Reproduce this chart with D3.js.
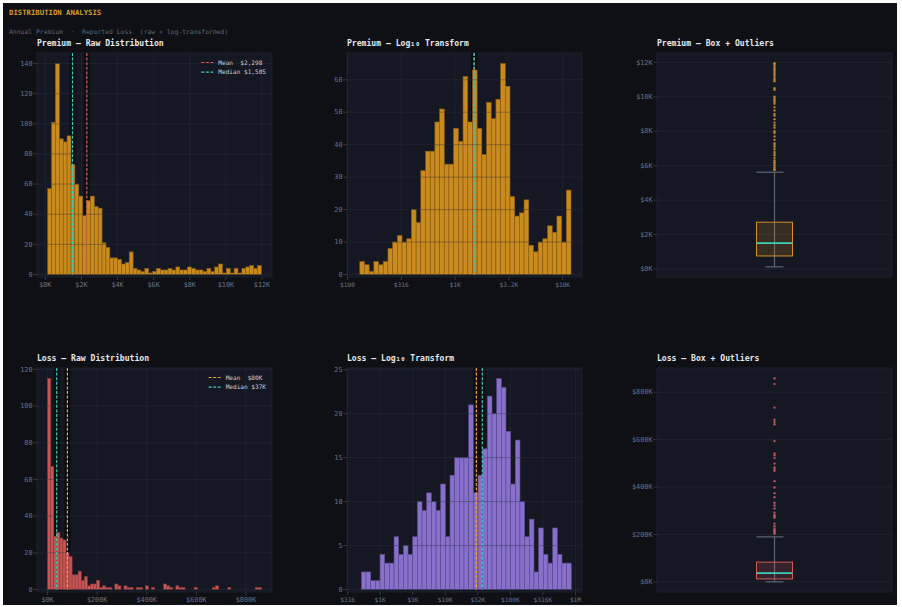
<!DOCTYPE html>
<html>
<head>
<meta charset="utf-8">
<script src="https://cdn.jsdelivr.net/npm/d3@7"></script>
<style>
  html, body { margin: 0; padding: 0; background: #ffffff; }
  svg { display: block; }
  text { font-family: "DejaVu Sans Mono", monospace; }
</style>
</head>
<body>
<svg id="chart" width="902" height="607"></svg>
<script>
// ---- data ----
const premiumRange = [130, 11960];           // min / max premium ($)
const premiumRawCounts = [57, 101, 140, 90, 88, 92, 73, 60, 52, 39, 49, 52, 45, 44, 21, 18, 11, 11, 10, 7,
  8, 15, 4, 3, 2, 4, 1, 2, 4, 3, 3, 4, 3, 5, 3, 3, 5, 4, 3, 3, 2, 4, 2, 5, 7, 1, 4, 1, 4, 1, 4, 5, 6, 4, 6];
const premiumLogCounts = [4, 3, 1, 4, 3, 4, 8, 10, 12, 10, 11, 20, 16, 32, 38, 38, 47, 51, 34, 34,
  45, 41, 61, 47, 63, 45, 37, 53, 48, 54, 65, 58, 24, 18, 19, 23, 9, 7, 10, 11, 15, 13, 18, 10, 26];
const premiumMean = 2298, premiumMedian = 1505, premiumLogMean = 1500;

const lossRange = [514, 862000];
const lossRawCounts = [115, 67, 29, 31, 28, 27, 20, 18, 8, 8, 10, 5, 7, 2, 3, 3, 5, 1, 2, 1,
  1, 0, 3, 2, 0, 2, 1, 1, 0, 1, 1, 0, 2, 0, 1, 0, 0, 0, 3, 2,
  1, 0, 2, 1, 1, 0, 0, 0, 1, 0, 0, 0, 0, 0, 1, 2, 0, 0, 0, 1,
  0, 0, 0, 0, 0, 0, 0, 0, 1, 1];
const lossLogCounts = [2, 2, 1, 1, 4, 3, 3, 6, 4, 5, 4, 6, 10, 9, 11, 10, 9, 12, 6, 13,
  15, 15, 15, 21, 11, 13, 16, 22, 20, 24, 23, 18, 12, 17, 10, 6, 8, 2, 7, 4, 3, 7, 4, 3, 3];
const lossMean = 80000, lossMedian = 37000, lossLogMean = 30000;

// box plot stats: [whiskerLow, q1, median, q3, whiskerHigh]
const premiumBox = [130, 760, 1505, 2720, 5620];
const premiumOutliers = [5750, 5800, 5900, 6000, 6100, 6200, 6300, 6450, 6600, 6700, 6800, 6950, 7100, 7200,
  7300, 7500, 7700, 7900, 8000, 8200, 8350, 8500, 8700, 8900, 9000, 9200, 9400, 9600, 9700, 9800,
  9900, 10000, 10400, 10500, 10900, 11000, 11100, 11200, 11300, 11400, 11500, 11600, 11700, 11800, 11900, 11950];
const lossBox = [514, 12800, 37000, 83600, 190000];
const lossOutliers = [203000, 207000, 213000, 218000, 224000, 235000, 246000, 271000, 276000, 281000, 292000,
  310000, 322000, 334000, 357000, 374000, 398000, 425000, 469000, 476000, 483000, 499000, 522000,
  534000, 542000, 594000, 665000, 675000, 684000, 735000, 834000, 859000];

// tick labels
const premiumRawTicks = [0, 2000, 4000, 6000, 8000, 10000, 12000];
const premiumRawLabels = ["$0K", "$2K", "$4K", "$6K", "$8K", "$10K", "$12K"];
const premiumLogTicks = [100, 316.2, 1000, 3162, 10000];
const premiumLogLabels = ["$100", "$316", "$1K", "$3.2K", "$10K"];
const lossRawTicks = [0, 200000, 400000, 600000, 800000];
const lossRawLabels = ["$0K", "$200K", "$400K", "$600K", "$800K"];
const lossLogTicks = [316.2, 1000, 3162, 10000, 31623, 100000, 316228, 1000000];
const lossLogLabels = ["$316", "$1K", "$3K", "$10K", "$32K", "$100K", "$316K", "$1M"];
const premiumBoxTicks = [0, 2000, 4000, 6000, 8000, 10000, 12000];
const premiumBoxLabels = ["$0K", "$2K", "$4K", "$6K", "$8K", "$10K", "$12K"];
const lossBoxTicks = [0, 200000, 400000, 600000, 800000];
const lossBoxLabels = ["$0K", "$200K", "$400K", "$600K", "$800K"];

// ---- style ----
const C = {
  page: "#0e1015", plot: "#151822", border: "#1f2330", grid: "#2c3142",
  tick: "#6b7288", tickLine: "#3b4152", title: "#e6e7ea",
  orange: "#d3901f", orangeStroke: "#8b5d12",
  red: "#d25a5a", redStroke: "#8e3a3a",
  purple: "#8d74d4", purpleStroke: "#5d4a92",
  teal: "#3ecfb9", redLine: "#e65a5a", orangeLine: "#f2a324", whisker: "#5b6478"
};
const colX = [37, 347, 657], rowY = [53, 368], PW = 235, PH = 224;

const svg = d3.select("#chart");
svg.append("rect").attr("x", 3).attr("y", 3).attr("width", 894).attr("height", 602).attr("fill", C.page);

svg.append("text").attr("x", 9).attr("y", 14.5)
  .attr("fill", "#d99a2b").attr("font-size", 7.3).attr("font-weight", "bold")
  .text("DISTRIBUTION ANALYSIS");
svg.append("text").attr("x", 9).attr("y", 33.5)
  .attr("fill", "#5d6474").attr("font-size", 6.4).style("white-space", "pre")
  .text("Annual Premium  \u00b7  Reported Loss  (raw + log-transformed)");

function frame(px, py, title) {
  const g = svg.append("g");
  g.append("text").attr("x", px).attr("y", py - 7)
    .attr("fill", C.title).attr("font-size", 8.1).attr("font-weight", "bold")
    .text(title);
  g.append("rect").attr("x", px).attr("y", py).attr("width", PW).attr("height", PH)
    .attr("fill", C.plot).attr("stroke", C.border).attr("stroke-width", 0.8);
  return g;
}

function yAxis(g, px, y, ticks, labels) {
  ticks.forEach((t, i) => {
    g.append("line").attr("x1", px - 3.5).attr("x2", px).attr("y1", y(t)).attr("y2", y(t))
      .attr("stroke", C.tickLine).attr("stroke-width", 0.8);
    g.append("text").attr("x", px - 4.5).attr("y", y(t)).attr("dy", "0.33em")
      .attr("text-anchor", "end").attr("fill", C.tick).attr("font-size", 6.8)
      .text(labels[i]);
  });
}

function hGrid(g, px, y, ticks) {
  g.append("g").selectAll("line").data(ticks).join("line")
    .attr("x1", px).attr("x2", px + PW).attr("y1", d => y(d)).attr("y2", d => y(d))
    .attr("stroke", C.grid).attr("stroke-opacity", 0.5).attr("stroke-width", 0.8);
}

function histPanel(o) {
  const px = o.px, py = o.py, bottom = py + PH;
  const g = frame(px, py, o.title);
  const n = o.counts.length;
  let x, edges;
  if (o.log) {
    x = d3.scaleLog().domain(o.xDomain.map(v => Math.pow(10, v))).range([px, px + PW]);
    const a = Math.log10(o.range[0]), b = Math.log10(o.range[1]);
    edges = d3.range(n + 1).map(i => Math.pow(10, a + (b - a) * i / n));
  } else {
    const pad = (o.range[1] - o.range[0]) * 0.05;
    x = d3.scaleLinear().domain([o.range[0] - pad, o.range[1] + pad]).range([px, px + PW]);
    edges = d3.range(n + 1).map(i => o.range[0] + (o.range[1] - o.range[0]) * i / n);
  }
  const y = d3.scaleLinear().domain([0, d3.max(o.counts) * 1.05]).range([bottom - 2.5, py]);

  // vertical grid
  g.append("g").selectAll("line").data(o.xTicks).join("line")
    .attr("x1", d => x(d)).attr("x2", d => x(d)).attr("y1", py).attr("y2", bottom)
    .attr("stroke", C.grid).attr("stroke-opacity", 0.5).attr("stroke-width", 0.8);

  // dark halo of reference lines (sits behind the bars)
  o.lines.forEach(l => {
    g.append("line").attr("x1", x(l.v)).attr("x2", x(l.v)).attr("y1", py).attr("y2", y(0))
      .attr("stroke", "#090b0f").attr("stroke-opacity", 0.75).attr("stroke-width", 6);
  });

  g.append("g").selectAll("rect").data(o.counts).join("rect")
    .attr("x", (d, i) => x(edges[i]))
    .attr("width", (d, i) => Math.max(0, x(edges[i + 1]) - x(edges[i])))
    .attr("y", d => y(d))
    .attr("height", d => y(0) - y(d))
    .attr("fill", o.color).attr("fill-opacity", 0.95)
    .attr("stroke", o.stroke).attr("stroke-width", 0.6);

  hGrid(g, px, y, o.yTicks);

  o.lines.forEach(l => {
    g.append("line").attr("x1", x(l.v)).attr("x2", x(l.v)).attr("y1", py).attr("y2", y(0))
      .attr("stroke", l.color).attr("stroke-width", 1.2).attr("stroke-dasharray", "3,1.6");
  });

  yAxis(g, px, y, o.yTicks, o.yTicks.map(String));
  o.xTicks.forEach((t, i) => {
    g.append("line").attr("x1", x(t)).attr("x2", x(t)).attr("y1", bottom).attr("y2", bottom + 3)
      .attr("stroke", C.tickLine).attr("stroke-width", 0.8);
    g.append("text").attr("x", x(t)).attr("y", bottom + 10)
      .attr("text-anchor", "middle").attr("fill", C.tick).attr("font-size", o.log ? 6.2 : 6.8)
      .text(o.xLabels[i]);
  });

  if (o.legend) {
    const lg = g.append("g");
    const texts = o.legend.map((l, i) => lg.append("text")
      .attr("y", py + 9.5 + i * 9.7).attr("dy", "0.33em")
      .attr("fill", "#c9ccd6").attr("font-size", 6.1).style("white-space", "pre")
      .text(l.label));
    const maxW = d3.max(texts, t => t.node().getComputedTextLength());
    const tx = px + PW - 6 - maxW;
    texts.forEach(t => t.attr("x", tx));
    o.legend.forEach((l, i) => {
      lg.append("line").attr("x1", tx - 17).attr("x2", tx - 5)
        .attr("y1", py + 9.5 + i * 9.7).attr("y2", py + 9.5 + i * 9.7)
        .attr("stroke", l.color).attr("stroke-width", 1.2).attr("stroke-dasharray", "3,1.6");
    });
  }
}

function boxPanel(o) {
  const px = o.px, py = o.py, bottom = py + PH;
  const g = frame(px, py, o.title);
  const lo = o.box[0], hi = d3.max(o.outliers);
  const pad = (hi - lo) * 0.05;
  const y = d3.scaleLinear().domain([lo - pad, hi + pad]).range([bottom, py]);
  hGrid(g, px, y, o.ticks);

  const cx = px + PW / 2, bw = 36;
  const [wl, q1, med, q3, wh] = o.box;
  g.append("line").attr("x1", cx).attr("x2", cx).attr("y1", y(wl)).attr("y2", y(wh))
    .attr("stroke", C.whisker).attr("stroke-width", 1.2);
  g.append("line").attr("x1", cx - bw / 2).attr("x2", cx + bw / 4).attr("y1", y(wh)).attr("y2", y(wh))
    .attr("stroke", C.whisker).attr("stroke-width", 1.2);
  g.append("line").attr("x1", cx - bw / 4).attr("x2", cx + bw / 4).attr("y1", y(wl)).attr("y2", y(wl))
    .attr("stroke", C.whisker).attr("stroke-width", 1.2);
  g.append("rect").attr("x", cx - bw / 2).attr("width", bw)
    .attr("y", y(q3)).attr("height", y(q1) - y(q3))
    .attr("fill", o.color).attr("fill-opacity", 0.18)
    .attr("stroke", o.color).attr("stroke-width", 1);
  g.append("line").attr("x1", cx - bw / 2).attr("x2", cx + bw / 2).attr("y1", y(med)).attr("y2", y(med))
    .attr("stroke", C.teal).attr("stroke-width", 1.8);
  g.append("g").selectAll("circle").data(o.outliers).join("circle")
    .attr("cx", cx).attr("cy", d => y(d)).attr("r", 1.2)
    .attr("fill", o.color).attr("fill-opacity", 0.85);

  yAxis(g, px, y, o.ticks, o.labels);
}

histPanel({
  px: colX[0], py: rowY[0], title: "Premium \u2014 Raw Distribution",
  counts: premiumRawCounts, range: premiumRange, log: false,
  xTicks: premiumRawTicks, xLabels: premiumRawLabels, yTicks: d3.range(0, 141, 20),
  color: C.orange, stroke: C.orangeStroke,
  lines: [{ v: premiumMedian, color: C.teal }, { v: premiumMean, color: C.redLine }],
  legend: [{ label: "Mean  $2,298", color: C.redLine }, { label: "Median $1,505", color: C.teal }]
});
histPanel({
  px: colX[1], py: rowY[0], title: "Premium \u2014 Log\u2081\u2080 Transform",
  counts: premiumLogCounts, range: premiumRange, log: true, xDomain: [1.995, 4.18],
  xTicks: premiumLogTicks, xLabels: premiumLogLabels, yTicks: d3.range(0, 61, 10),
  color: C.orange, stroke: C.orangeStroke,
  lines: [{ v: premiumLogMean, color: C.redLine }, { v: premiumMedian, color: C.teal }]
});
boxPanel({
  px: colX[2], py: rowY[0], title: "Premium \u2014 Box + Outliers",
  box: premiumBox, outliers: premiumOutliers, color: C.orange,
  ticks: premiumBoxTicks, labels: premiumBoxLabels
});
histPanel({
  px: colX[0], py: rowY[1], title: "Loss \u2014 Raw Distribution",
  counts: lossRawCounts, range: lossRange, log: false,
  xTicks: lossRawTicks, xLabels: lossRawLabels, yTicks: d3.range(0, 121, 20),
  color: C.red, stroke: C.redStroke,
  lines: [{ v: lossMedian, color: C.teal }, { v: lossMean, color: C.orangeLine }],
  legend: [{ label: "Mean  $80K", color: C.orangeLine }, { label: "Median $37K", color: C.teal }]
});
histPanel({
  px: colX[1], py: rowY[1], title: "Loss \u2014 Log\u2081\u2080 Transform",
  counts: lossLogCounts, range: lossRange, log: true, xDomain: [2.49, 6.10],
  xTicks: lossLogTicks, xLabels: lossLogLabels, yTicks: d3.range(0, 26, 5),
  color: C.purple, stroke: C.purpleStroke,
  lines: [{ v: lossLogMean, color: C.orangeLine }, { v: lossMedian, color: C.teal }]
});
boxPanel({
  px: colX[2], py: rowY[1], title: "Loss \u2014 Box + Outliers",
  box: lossBox, outliers: lossOutliers, color: C.red,
  ticks: lossBoxTicks, labels: lossBoxLabels
});
</script>
</body>
</html>
